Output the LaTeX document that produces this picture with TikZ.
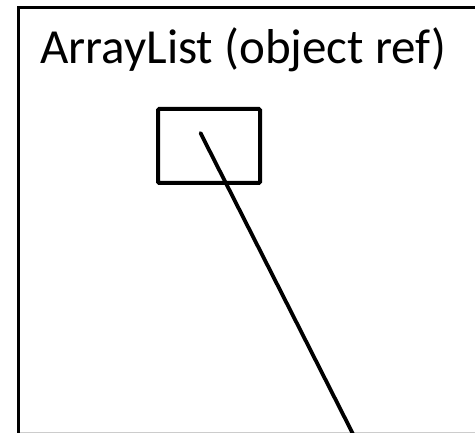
\documentclass[tikz,border=0pt]{standalone}
\usepackage{fontspec}
\setmainfont{Carlito}
\begin{document}
\begin{tikzpicture}[x=1pt,y=-1pt,
  frameline/.style={line width=3pt,line join=miter},
  refbox/.style={draw,line width=4pt,rounded corners=1.2pt,minimum width=102pt,minimum height=74pt,inner sep=0pt},
  pointer/.style={line width=3.8pt,line cap=round},
  title/.style={font=\fontsize{49}{58}\selectfont,inner sep=0pt,anchor=base west}]
\useasboundingbox (0,0) rectangle (475,433);
% clipped frame of the object
\coordinate (frameBL) at (18.5,440);
\coordinate (frameTL) at (18.5,7.5);
\coordinate (frameTR) at (480,7.5);
\draw[frameline] (frameBL) -- (frameTL) -- (frameTR);
\coordinate (cutL) at (20,432.3);
\coordinate (cutR) at (475,432.3);
\draw[line width=1.4pt,black!20] (cutL) -- (cutR);
% label
\node[title] (label) at (40,64) {ArrayList (object ref)};
% reference cell and its pointer
\node[refbox] (cell) at (209,146) {};
\coordinate (ptrStart) at (200.5,133);
\coordinate (ptrEnd) at (354,436);
\draw[pointer] (ptrStart) -- (ptrEnd);
\end{tikzpicture}
\end{document}
